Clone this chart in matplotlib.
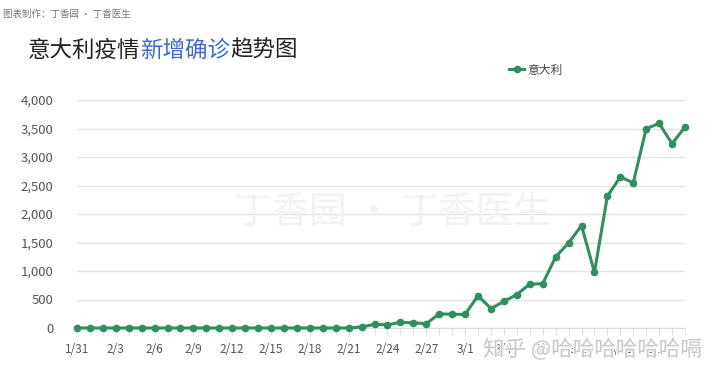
import matplotlib
matplotlib.use("Agg")
import matplotlib.pyplot as plt
import matplotlib.patheffects as pe
from matplotlib.ticker import FuncFormatter, MultipleLocator

plt.rcParams['font.family'] = ['Noto Sans CJK SC', 'DejaVu Sans']

dates = ["1/31", "2/1", "2/2", "2/3", "2/4", "2/5", "2/6", "2/7", "2/8", "2/9",
         "2/10", "2/11", "2/12", "2/13", "2/14", "2/15", "2/16", "2/17", "2/18",
         "2/19", "2/20", "2/21", "2/22", "2/23", "2/24", "2/25", "2/26", "2/27",
         "2/28", "2/29", "3/1", "3/2", "3/3", "3/4", "3/5", "3/6", "3/7", "3/8",
         "3/9", "3/10", "3/11", "3/12", "3/13", "3/14", "3/15", "3/16", "3/17", "3/18"]
italy_new = [0, 0, 0, 0, 0, 0, 0, 0, 0, 0,
             0, 0, 0, 0, 0, 0, 0, 0, 0,
             0, 0, 0, 17, 65, 55, 100, 90, 75,
             250, 240, 240, 566, 342, 466, 587, 769, 778, 1247,
             1492, 1797, 977, 2313, 2651, 2547, 3497, 3590, 3233, 3526]
series_name = "意大利"
title_parts = [("意大利疫情", "#222222"), ("新增确诊", "#3a6ad6"), ("趋势图", "#222222")]
source_text = "图表制作：丁香园 · 丁香医生"

W, H = 720, 378
fig = plt.figure(figsize=(W / 100, H / 100), dpi=100)
ax = fig.add_axes([77 / W, 1 - 328 / H, (685 - 77) / W, (328 - 100) / H])

green = "#2d915f"
x = list(range(len(dates)))
ax.plot(x, italy_new, color=green, lw=2.2, marker="o", ms=5.5,
        markeredgewidth=0, clip_on=False, zorder=5, label=series_name)

ax.set_xlim(0, len(dates) - 1)
ax.set_ylim(0, 4000)
ax.yaxis.set_major_locator(MultipleLocator(500))
ax.yaxis.set_major_formatter(FuncFormatter(lambda v, p: f"{int(v):,}"))
ax.grid(axis="y", color="#e3e3e3", lw=1)
ax.set_axisbelow(True)
for s in ["top", "right", "left"]:
    ax.spines[s].set_visible(False)
ax.spines["bottom"].set_color("#dddddd")
ax.tick_params(axis="y", length=0, pad=17, labelsize=9.5, labelcolor="#555555")

ax.set_xticks(x, minor=True)
ax.set_xticks(x[::3])
ax.set_xticklabels(dates[::3])
ax.tick_params(axis="x", which="both", length=5, color="#dddddd", labelsize=8.5,
               labelcolor="#555555", pad=6)

# watermark
fig.text(0.545, 1 - 213 / H, "丁香园 · 丁香医生", fontsize=27, color="#f3f3f3",
         ha="center", va="center", zorder=0, fontweight="light")

# source
fig.text(3 / W, 1 - 14 / H, source_text, fontsize=6.8, color="#777777", va="center")

# title (multi-color)
fig.canvas.draw()
r = fig.canvas.get_renderer()
xpos = 28 / W
for txt, col in title_parts:
    t = fig.text(xpos, 1 - 50 / H, txt, fontsize=16.2, color=col, va="center")
    bb = t.get_window_extent(renderer=r)
    xpos += bb.width / W

# legend
leg = fig.legend(loc="center left", bbox_to_anchor=(503 / W, 1 - 70 / H), frameon=False,
                 fontsize=8.5, handlelength=1.3, handletextpad=0.25, borderpad=0)
for t in leg.get_texts():
    t.set_color("#444444")

# zhihu watermark
fig.text(483 / W, 1 - 350 / H, "知乎 @哈哈哈哈哈哈嗝", fontsize=15.5, color="#c4c4c4",
         va="center", alpha=0.9, zorder=10,
         path_effects=[pe.withStroke(linewidth=2, foreground="white")])

fig.savefig("out.png", dpi=100)
